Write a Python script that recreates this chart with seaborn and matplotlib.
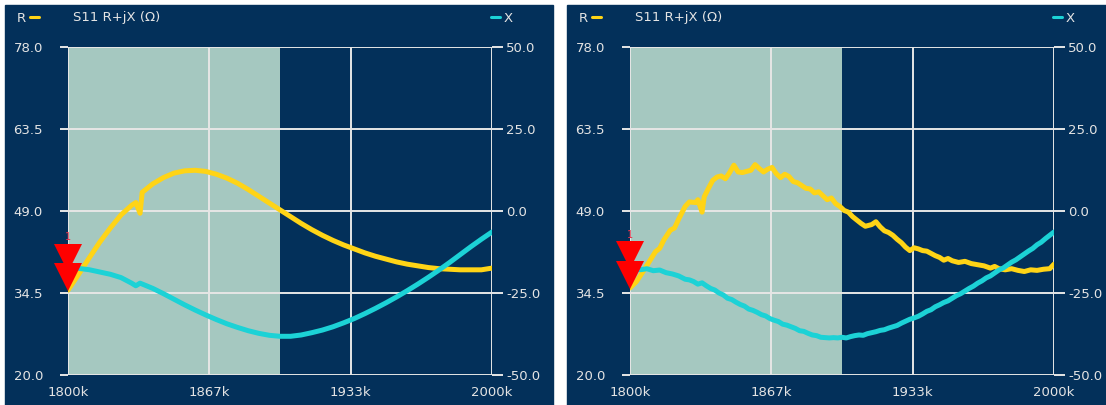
import matplotlib
matplotlib.use("Agg")
import matplotlib.pyplot as plt
import matplotlib.transforms as mtransforms
from matplotlib.lines import Line2D
from matplotlib.patches import Rectangle
import seaborn as sns

# Ejes comunes
freq_ticks = [1800, 1866.67, 1933.33, 2000]
freq_tick_labels = ["1800k", "1867k", "1933k", "2000k"]
r_ticks = [20.0, 34.5, 49.0, 63.5, 78.0]
x_ticks = [-50.0, -25.0, 0.0, 25.0, 50.0]
span_start, span_end = 1800, 1900
title = "S11 R+jX (\u03a9)"

# Panel izquierdo (suavizado)
left_r_freq = [1800, 1805, 1810, 1815, 1820, 1825, 1830, 1832, 1834, 1835, 1840, 1845, 1850,
               1855, 1860, 1865, 1870, 1875, 1880, 1885, 1890, 1895, 1900, 1905, 1910, 1915,
               1920, 1925, 1930, 1935, 1940, 1945, 1950, 1955, 1960, 1965, 1970, 1975, 1980,
               1985, 1990, 1995, 2000]
left_r = [35.0, 37.8, 40.7, 43.5, 46.0, 48.3, 50.0, 50.5, 48.6, 52.3, 53.8, 54.9, 55.7,
          56.1, 56.2, 56.0, 55.5, 54.8, 53.9, 52.8, 51.6, 50.4, 49.2, 48.0, 46.8, 45.7,
          44.7, 43.8, 43.0, 42.3, 41.6, 41.0, 40.5, 40.0, 39.6, 39.3, 39.0, 38.8, 38.7,
          38.6, 38.6, 38.6, 38.9]
left_x_freq = [1803, 1805, 1810, 1815, 1820, 1825, 1830, 1832, 1834, 1840, 1845, 1850, 1855,
               1860, 1865, 1870, 1875, 1880, 1885, 1890, 1895, 1900, 1905, 1910, 1915, 1920,
               1925, 1930, 1935, 1940, 1945, 1950, 1955, 1960, 1965, 1970, 1975, 1980, 1985,
               1990, 1995, 2000]
left_x = [-17.4, -17.5, -17.9, -18.6, -19.3, -20.3, -22.0, -22.8, -22.0, -23.6, -25.2, -26.9,
          -28.6, -30.2, -31.7, -33.1, -34.4, -35.5, -36.5, -37.3, -37.9, -38.2, -38.2, -37.8,
          -37.1, -36.3, -35.3, -34.1, -32.8, -31.3, -29.7, -28.0, -26.2, -24.3, -22.3, -20.2,
          -18.0, -15.7, -13.3, -10.9, -8.6, -6.4]

# Panel derecho (sin suavizar)
right_r_freq = [1800, 1803, 1806, 1809, 1812, 1814, 1816, 1819, 1821, 1823, 1826, 1828, 1831,
                1832, 1834, 1835, 1837, 1839, 1841, 1843, 1845, 1847, 1849, 1851, 1853, 1855,
                1857, 1859, 1861, 1863, 1865, 1867, 1869, 1871, 1873, 1875, 1877, 1879, 1881,
                1883, 1885, 1887, 1889, 1891, 1893, 1895, 1897, 1899, 1901, 1903, 1905, 1907,
                1909, 1911, 1914, 1916, 1918, 1920, 1922, 1924, 1926, 1928, 1930, 1932, 1934,
                1936, 1938, 1940, 1942, 1944, 1946, 1948, 1950, 1952, 1955, 1958, 1961, 1964,
                1967, 1970, 1972, 1974, 1977, 1980, 1983, 1986, 1989, 1992, 1995, 1998, 2000]
right_r = [35.4, 36.5, 38.2, 40.0, 41.8, 42.4, 43.9, 45.6, 46.0, 47.6, 49.8, 50.6, 50.5,
           51.0, 48.8, 51.5, 53.0, 54.4, 55.0, 55.2, 54.7, 55.8, 57.1, 55.9, 55.8, 56.0,
           56.2, 57.2, 56.5, 55.9, 56.4, 56.7, 55.6, 54.9, 55.5, 55.1, 54.2, 54.0, 53.5,
           53.0, 52.9, 52.2, 52.4, 51.7, 51.0, 51.3, 50.3, 49.8, 49.1, 48.8, 48.0, 47.4,
           46.8, 46.3, 46.6, 47.1, 46.2, 45.5, 45.2, 44.7, 44.0, 43.4, 42.6, 42.0, 42.5,
           42.3, 42.0, 41.9, 41.5, 41.1, 40.8, 40.3, 40.6, 40.2, 39.9, 40.1, 39.7, 39.5,
           39.3, 38.9, 39.2, 38.8, 38.6, 38.8, 38.5, 38.3, 38.6, 38.5, 38.7, 38.8, 39.6]
right_x_freq = [1802, 1805, 1808, 1811, 1814, 1817, 1820, 1823, 1826, 1828, 1830, 1832, 1834,
                1836, 1838, 1840, 1842, 1844, 1846, 1848, 1850, 1852, 1854, 1856, 1858, 1860,
                1862, 1864, 1866, 1868, 1870, 1872, 1874, 1876, 1878, 1880, 1882, 1884, 1886,
                1888, 1890, 1892, 1894, 1896, 1898, 1900, 1902, 1904, 1906, 1908, 1910, 1912,
                1914, 1916, 1918, 1920, 1922, 1924, 1926, 1928, 1930, 1932, 1934, 1936, 1938,
                1940, 1942, 1944, 1946, 1948, 1950, 1952, 1954, 1956, 1958, 1960, 1962, 1964,
                1966, 1968, 1970, 1972, 1974, 1976, 1978, 1980, 1982, 1984, 1986, 1988, 1990,
                1992, 1994, 1996, 1998, 2000]
right_x = [-17.5, -17.9, -17.6, -18.2, -18.0, -18.8, -19.2, -19.8, -20.8, -21.0, -21.5, -22.3,
           -21.9, -22.8, -23.6, -24.1, -25.0, -25.6, -26.6, -27.0, -27.8, -28.5, -29.0, -29.9,
           -30.3, -30.9, -31.6, -32.0, -32.8, -33.3, -33.7, -34.5, -34.8, -35.3, -35.8, -36.5,
           -36.7, -37.3, -37.8, -38.0, -38.5, -38.6, -38.7, -38.6, -38.7, -38.5, -38.7, -38.3,
           -38.0, -37.8, -37.9, -37.4, -37.1, -36.8, -36.4, -36.2, -35.7, -35.3, -34.9, -34.2,
           -33.6, -33.0, -32.6, -32.1, -31.4, -30.6, -30.1, -29.2, -28.6, -27.9, -27.4, -26.6,
           -25.8, -25.2, -24.4, -23.6, -22.9, -22.0, -21.3, -20.4, -19.8, -18.9, -18.0, -17.4,
           -16.5, -15.6, -14.9, -14.0, -13.1, -12.2, -11.4, -10.3, -9.5, -8.4, -7.4, -6.4]

NAVY = "#03305A"
SHADE = "#A5C8C0"
YELLOW = "#FFD416"
CYAN = "#1CD2D6"
GRID = "#E6E6E6"
TXT = "#E4E4E4"
W, H = 1106, 405


def px_box(x0, y0, x1, y1):
    """Caja en pixeles (origen arriba a la izquierda) -> fraccion de figura."""
    return [x0 / W, 1 - y1 / H, (x1 - x0) / W, (y1 - y0) / H]


def fig_text(fig, x, y, s, **kw):
    fig.text(x / W, 1 - y / H, s, va="center", zorder=5, **kw)


def fig_dash(fig, x0, x1, y, color):
    fig.add_artist(Line2D([x0 / W, x1 / W], [1 - y / H, 1 - y / H], color=color, lw=2.2,
                          transform=fig.transFigure, zorder=5))


def draw_panel(fig, dx, r_freq, r_vals, x_freq, x_vals):
    # fondo del panel
    x0, y0, w, h = px_box(5 + dx, 5, 553 + dx, 405)
    fig.patches.append(Rectangle((x0, y0), w, h, transform=fig.transFigure,
                                 color=NAVY, zorder=-10))

    ax = fig.add_axes(px_box(68 + dx, 47, 492 + dx, 375))
    ax.set_facecolor(NAVY)
    ax.set_axisbelow(True)
    ax.axvspan(span_start, span_end, color=SHADE, lw=0, zorder=0.2)
    sns.lineplot(x=r_freq, y=r_vals, ax=ax, color=YELLOW, linewidth=3.6,
                 estimator=None, sort=False)

    ax2 = ax.twinx()
    sns.lineplot(x=x_freq, y=x_vals, ax=ax2, color=CYAN, linewidth=3.6,
                 estimator=None, sort=False)

    # marcador 1 en el primer punto de R
    for dy in (9.5, 23.5):
        tr = mtransforms.offset_copy(ax.transData, fig=fig, x=0, y=dy, units="points")
        ax2.plot([r_freq[0]], [r_vals[0]], marker="v", ms=19.5, color="#FF0000",
                 mew=0, transform=tr, clip_on=False, zorder=6)
    ax2.annotate("1", xy=(r_freq[0], r_vals[0]), xycoords=ax.transData,
                 xytext=(0, 38), textcoords="offset points", ha="center", va="center",
                 color="#E8304A", fontsize=7, annotation_clip=False)

    ax.set_xlim(1800, 2000)
    ax.set_ylim(20, 78)
    ax2.set_ylim(-50, 50)
    ax.set_xticks(freq_ticks, freq_tick_labels)
    ax.set_yticks(r_ticks, [f"{v:.1f}" for v in r_ticks])
    ax2.set_yticks(x_ticks, [f"{v:.1f}" for v in x_ticks])
    ax.grid(True, color=GRID, lw=1.4)
    ax2.grid(False)
    ax.set_xlabel("")
    ax.set_ylabel("")
    ax2.set_ylabel("")
    for a in (ax, ax2):
        for sp in a.spines.values():
            sp.set_visible(False)
    ax.tick_params(axis="x", direction="out", length=6, width=1.4, color=GRID,
                   labelcolor=TXT, labelsize=9.5, pad=2)
    ax.tick_params(axis="y", direction="out", length=6, width=1.4, color=GRID,
                   labelcolor=TXT, labelsize=9.5, pad=12)
    ax2.tick_params(axis="y", direction="out", length=8, width=1.4, color=GRID,
                    labelcolor=TXT, labelsize=9.5, pad=2)

    # cabecera
    fig_text(fig, 17 + dx, 18, "R", color=TXT, fontsize=9.5)
    fig_dash(fig, 30 + dx, 39 + dx, 17, YELLOW)
    fig_text(fig, 73 + dx, 18, title, color=TXT, fontsize=9.5)
    fig_dash(fig, 491 + dx, 500 + dx, 17, CYAN)
    fig_text(fig, 504 + dx, 18, "X", color=TXT, fontsize=9.5)


if __name__ == "__main__":
    sns.set_style("dark")
    plt.rcParams["font.family"] = ["DejaVu Sans"]
    fig = plt.figure(figsize=(W / 100, H / 100), dpi=100, facecolor="white")
    draw_panel(fig, 0, left_r_freq, left_r, left_x_freq, left_x)
    draw_panel(fig, 562, right_r_freq, right_r, right_x_freq, right_x)
    fig.savefig("out.png", dpi=100, facecolor="white")
    plt.close(fig)
